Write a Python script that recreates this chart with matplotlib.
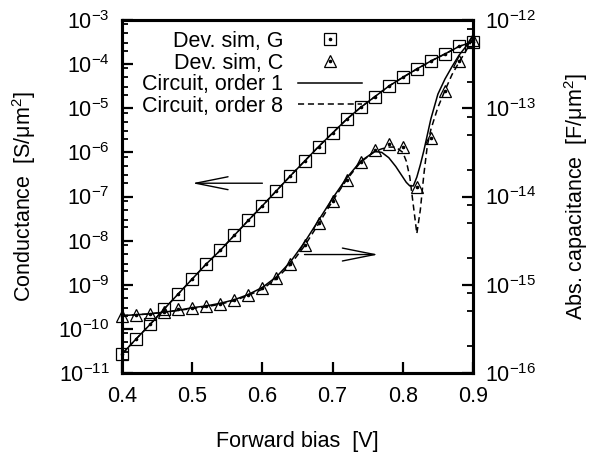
import numpy as np
import matplotlib
matplotlib.use('Agg')
import matplotlib.pyplot as plt
from matplotlib.ticker import LogLocator, NullFormatter
from matplotlib.legend_handler import HandlerTuple

plt.rcParams['font.family'] = 'Liberation Sans'
plt.rcParams['mathtext.fontset'] = 'custom'
plt.rcParams['mathtext.rm'] = 'Liberation Sans'
plt.rcParams['mathtext.it'] = 'Liberation Sans:italic'
plt.rcParams['axes.unicode_minus'] = False
plt.rcParams['font.size'] = 15.5

# device simulation points (log10 values)
v_dev = [0.40, 0.42, 0.44, 0.46, 0.48, 0.50, 0.52, 0.54, 0.56, 0.58, 0.60, 0.62, 0.64,
         0.66, 0.68, 0.70, 0.72, 0.74, 0.76, 0.78, 0.80, 0.82, 0.84, 0.86, 0.88, 0.90]
g_dev_log = [-10.57, -10.23, -9.90, -9.55, -9.21, -8.87, -8.53, -8.22, -7.88, -7.54, -7.21,
             -6.87, -6.53, -6.20, -5.87, -5.56, -5.25, -4.98, -4.74, -4.50, -4.30, -4.11,
             -3.93, -3.77, -3.60, -3.49]
c_dev_log = [-15.35, -15.34, -15.33, -15.31, -15.28, -15.26, -15.24, -15.22, -15.17, -15.12,
             -15.04, -14.92, -14.76, -14.55, -14.30, -14.05, -13.81, -13.61, -13.47, -13.41,
             -13.44, -13.89, -13.34, -12.80, -12.46, -12.23]

# circuit model curves
v_circ = [0.40, 0.42, 0.44, 0.46, 0.48, 0.50, 0.52, 0.54, 0.56, 0.58, 0.60, 0.62, 0.64,
          0.66, 0.68, 0.70, 0.72, 0.74, 0.76, 0.77, 0.78, 0.79, 0.80, 0.805, 0.81, 0.815,
          0.82, 0.825, 0.83, 0.835, 0.84, 0.85, 0.86, 0.87, 0.88, 0.89, 0.90]
c_ord1_log = [-15.35, -15.34, -15.33, -15.31, -15.29, -15.26, -15.24, -15.21, -15.17, -15.11,
              -15.03, -14.91, -14.74, -14.52, -14.27, -14.02, -13.79, -13.60, -13.49, -13.50,
              -13.56, -13.66, -13.78, -13.84, -13.88, -13.88, -13.78, -13.64, -13.48, -13.30,
              -13.12, -12.84, -12.67, -12.53, -12.40, -12.30, -12.17]
c_ord8_log = [-15.35, -15.34, -15.33, -15.31, -15.29, -15.27, -15.25, -15.22, -15.18, -15.12,
              -15.05, -14.93, -14.77, -14.56, -14.31, -14.05, -13.81, -13.61, -13.49, -13.46,
              -13.44, -13.44, -13.50, -13.60, -13.78, -14.10, -14.42, -14.15, -13.75, -13.42,
              -13.24, -12.99, -12.80, -12.62, -12.48, -12.35, -12.21]
g_circ_log = g_dev_log

g_dev = 10.0 ** np.array(g_dev_log)
c_dev = 10.0 ** np.array(c_dev_log)
g_circ = 10.0 ** np.array(g_circ_log)
c_ord1 = 10.0 ** np.array(c_ord1_log)
c_ord8 = 10.0 ** np.array(c_ord8_log)

fig = plt.figure(figsize=(5.89, 4.57), dpi=100)
ax1 = fig.add_axes([122/589, 1 - 373/457, 351/589, 353/457])
ax2 = ax1.twinx()

mk = dict(ms=8.5, mfc='none', mec='k', mew=0.9, ls='none', clip_on=False, zorder=4)
dot = dict(ms=1.6, color='k', ls='none', clip_on=False, zorder=5)
dash = (4, 2.5)

ax1.plot(v_dev, g_circ, 'k-', lw=1.1)
ax1.plot(v_dev, g_circ, 'k--', lw=1.1, dashes=dash)
sq, = ax1.plot(v_dev, g_dev, marker='s', **mk)
sqd, = ax1.plot(v_dev, g_dev, marker='o', **dot)

l1, = ax2.plot(v_circ, c_ord1, 'k-', lw=1.1)
l8, = ax2.plot(v_circ, c_ord8, 'k--', lw=1.1, dashes=dash)
tri, = ax2.plot(v_dev, c_dev, marker='^', **mk)
trid, = ax2.plot(v_dev, c_dev, marker='o', **dot)

ax1.set_yscale('log')
ax2.set_yscale('log')
ax1.set_xlim(0.4, 0.9)
ax1.set_ylim(1e-11, 1e-3)
ax2.set_ylim(1e-16, 1e-12)
ax1.set_xticks([0.4, 0.5, 0.6, 0.7, 0.8, 0.9])
ax1.set_xticklabels(['0.4', '0.5', '0.6', '0.7', '0.8', '0.9'])

ax1.yaxis.set_major_locator(LogLocator(base=10, numticks=20))
ax1.yaxis.set_minor_locator(LogLocator(base=10, subs=(2, 3, 5, 8), numticks=20))
ax1.yaxis.set_minor_formatter(NullFormatter())
ax2.yaxis.set_major_locator(LogLocator(base=10, numticks=20))
ax2.yaxis.set_minor_locator(LogLocator(base=10, subs=(2, 5, 8), numticks=20))
ax2.yaxis.set_minor_formatter(NullFormatter())

for ax in (ax1, ax2):
    for s in ax.spines.values():
        s.set_linewidth(2.2)
    ax.tick_params(which='major', direction='in', length=8, width=1.6, pad=9)
    ax.tick_params(which='minor', direction='in', length=4, width=1.3)
ax1.tick_params(top=False, right=False)
ax2.tick_params(axis='y', left=False, right=True)

ax1.set_xlabel('Forward bias  [V]')
ax1.set_ylabel(r'Conductance  [S/$\mathregular{\mu}$m$^2$]')
ax2.set_ylabel(r'Abs. capacitance  [F/$\mathregular{\mu}$m$^2$]')
ax1.xaxis.set_label_coords(0.5, -0.165)
ax1.yaxis.set_label_coords(-0.24, 0.5)
ax2.yaxis.set_label_coords(1.255, 0.5)

arrow = dict(arrowstyle='->,head_length=1.5,head_width=0.3', lw=1.0, color='k',
             shrinkA=0, shrinkB=0)
ax1.annotate('', xy=(0.50, 2.0e-7), xytext=(0.60, 2.0e-7), arrowprops=arrow)
ax2.annotate('', xy=(0.765, 2.2e-15), xytext=(0.66, 2.2e-15), arrowprops=arrow)

handles = [(sq, sqd), (tri, trid), l1, l8]
labels = ['Dev. sim, G', 'Dev. sim, C', 'Circuit, order 1', 'Circuit, order 8']
ax2.legend(handles, labels, loc='upper right', bbox_to_anchor=(362/589, 1 - 31/457),
           bbox_transform=fig.transFigure, frameon=False, markerfirst=False,
           handlelength=2.95, handletextpad=0.7, labelspacing=0.03, borderpad=0,
           borderaxespad=0, handler_map={tuple: HandlerTuple(ndivide=1)})

fig.savefig('out.png', dpi=100)
